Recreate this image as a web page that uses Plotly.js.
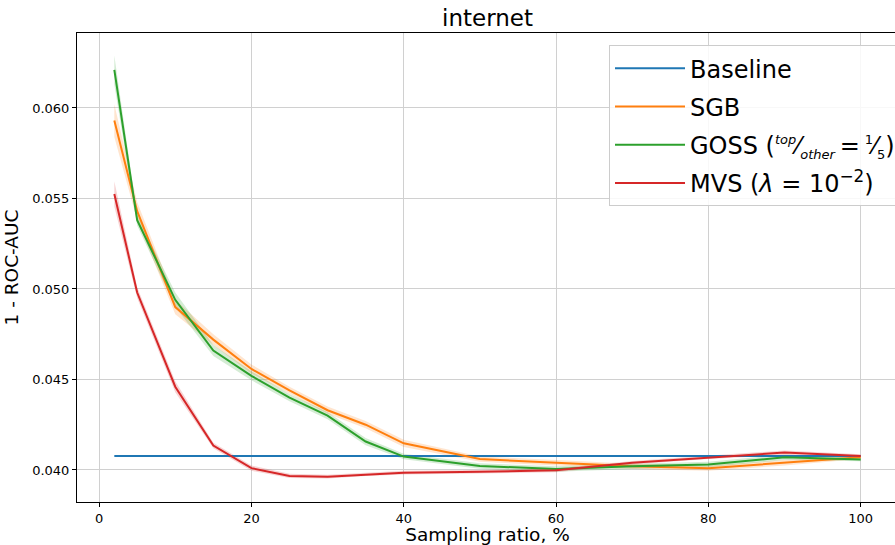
<!DOCTYPE html>
<html>
<head>
<meta charset="utf-8">
<script src="https://cdn.plot.ly/plotly-3.0.1.min.js"></script>
<style>
html,body{margin:0;padding:0;overflow:hidden;background:#fff;}
#chart{width:900px;height:545px;}
</style>
</head>
<body>
<div id="chart"></div>
<script>
const ratios = [2, 5, 10, 15, 20, 25, 30, 35, 40, 50, 60, 70, 80, 90, 100];
const baseline = [0.04077, 0.04077];
const baselineX = [2, 100];
const sgb  = [0.0593, 0.0543, 0.0490, 0.0472, 0.04558, 0.0444, 0.0433, 0.0425, 0.04147, 0.0406, 0.0404, 0.0402, 0.0401, 0.0404, 0.0407];
const sgbStd  = [0.0009, 0.0005, 0.0004, 0.0003, 0.00025, 0.0002, 0.0002, 0.0002, 0.0002, 0.00015, 0.00015, 0.00015, 0.00015, 0.00015, 0.0001];
const goss = [0.0621, 0.0538, 0.0494, 0.0466, 0.0452, 0.0440, 0.0430, 0.04157, 0.04074, 0.04022, 0.04005, 0.0402, 0.0403, 0.0407, 0.04058];
const gossStd = [0.0008, 0.0003, 0.0004, 0.0003, 0.00025, 0.0002, 0.0002, 0.0002, 0.00015, 0.00015, 0.00015, 0.00015, 0.00015, 0.00015, 0.0001];
const mvs  = [0.05525, 0.0498, 0.0446, 0.04135, 0.0401, 0.03967, 0.03963, 0.03976, 0.03985, 0.0399, 0.03998, 0.0404, 0.0407, 0.04096, 0.04077];
const mvsStd  = [0.0007, 0.0003, 0.0003, 0.00015, 0.00015, 0.00012, 0.0001, 0.0001, 0.0001, 0.0001, 0.0001, 0.0001, 0.0001, 0.00012, 0.0001];

const sm = t => '<span style="font-size:13px;font-style:italic">' + t + '</span>';
const smn = t => '<span style="font-size:13px">' + t + '</span>';
const names = ['Baseline', 'SGB',
  'GOSS (<sup>' + sm('top') + '</sup>\u2044<sub>' + sm('other') + '</sub>\u2009=\u2009<sup>' + smn('1') + '</sup>\u2044<sub>' + smn('5') + '</sub>)',
  'MVS (<i>\u03bb</i> = 10<sup>\u22122</sup>)'];
const colors = ['#1f77b4', '#ff7f0e', '#2ca02c', '#d62728'];
const fills = ['rgba(31,119,180,0.2)', 'rgba(255,127,14,0.2)', 'rgba(44,160,44,0.2)', 'rgba(214,39,40,0.2)'];

function band(y, s, i) {
  const up = y.map((v, k) => v + s[k]);
  const lo = y.map((v, k) => v - s[k]);
  return {
    x: ratios.concat(ratios.slice().reverse()),
    y: up.concat(lo.reverse()),
    fill: 'toself', fillcolor: fills[i], line: {width: 0}, mode: 'lines',
    hoverinfo: 'skip', showlegend: false, legendgroup: 'g' + i
  };
}
function line(x, y, i) {
  return {x: x, y: y, mode: 'lines', name: names[i], legendgroup: 'g' + i,
    line: {color: colors[i], width: 2}};
}

const data = [
  band(sgb, sgbStd, 1), band(goss, gossStd, 2), band(mvs, mvsStd, 3),
  line(baselineX, baseline, 0), line(ratios, sgb, 1), line(ratios, goss, 2), line(ratios, mvs, 3)
];

const font = 'DejaVu Sans, sans-serif';
const layout = {
  width: 900, height: 545,
  margin: {l: 77, r: 2, t: 33, b: 43, autoexpand: false},
  paper_bgcolor: '#fff', plot_bgcolor: '#fff',
  font: {family: font, color: '#000', size: 12},
  title: {text: 'internet', font: {family: font, size: 23, color: '#000'},
    x: 0.5, xref: 'paper', xanchor: 'center', y: 0.967, yref: 'container', yanchor: 'middle'},
  xaxis: {
    range: [-2.9, 104.9], tickmode: 'array', tickvals: [0, 20, 40, 60, 80, 100],
    showgrid: true, gridcolor: '#d0d0d0', gridwidth: 1, zeroline: false,
    showline: true, linecolor: '#000', linewidth: 1, mirror: true,
    ticks: 'outside', ticklen: 4, tickcolor: '#000',
    tickfont: {family: font, size: 13},
    title: {text: 'Sampling ratio, %', font: {family: font, size: 18.5}, standoff: 5}
  },
  yaxis: {
    range: [0.03823, 0.06414], tickmode: 'array',
    tickvals: [0.040, 0.045, 0.050, 0.055, 0.060], tickformat: '.3f',
    showgrid: true, gridcolor: '#d0d0d0', gridwidth: 1, zeroline: false,
    showline: true, linecolor: '#000', linewidth: 1, mirror: true,
    ticks: 'outside', ticklen: 4, tickcolor: '#000',
    tickfont: {family: font, size: 13},
    title: {text: '1 - ROC-AUC', font: {family: font, size: 18.5}, standoff: 8}
  },
  legend: {
    x: 0.648, y: 0.974, xanchor: 'left', yanchor: 'top',
    bgcolor: 'rgba(255,255,255,0.85)', bordercolor: '#cccccc', borderwidth: 1,
    font: {family: font, size: 24, color: '#000'},
    traceorder: 'grouped', tracegroupgap: 4, itemwidth: 70
  },
  showlegend: true
};

Plotly.newPlot('chart', data, layout, {displayModeBar: false, staticPlot: true});
</script>
</body>
</html>
